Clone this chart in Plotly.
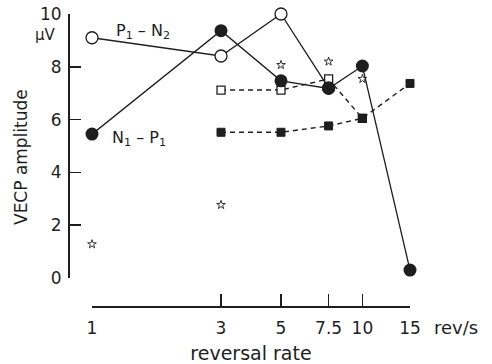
import math
import plotly.graph_objects as go

# ---- data ----
rates = [1, 3, 5, 7.5, 10, 15]
rate_labels = ["1", "3", "5", "7.5", "10", "15"]

n1p1_x = [1, 3, 5, 7.5, 10, 15]
n1p1_y = [5.45, 9.37, 7.47, 7.18, 8.03, 0.3]

p1n2_x = [1, 3, 5, 7.5]
p1n2_y = [9.10, 8.41, 10.0, 7.2]

open_sq_x = [3, 5, 7.5, 10]
open_sq_y = [7.12, 7.12, 7.54, 6.05]

filled_sq_x = [3, 5, 7.5, 10, 15]
filled_sq_y = [5.52, 5.52, 5.76, 6.05, 7.37]

star_x = [1, 3, 5, 7.5, 10, 15.8]
star_y = [1.28, 2.77, 8.07, 8.2, 7.54, 0.18]

y_ticks = [0, 2, 4, 6, 8, 10]

INK = "#1e1e1e"
W, H = 492, 364


def fx(px):
    return px / W


def fy(py):
    return 1 - py / H


fig = go.Figure()

fig.add_trace(go.Scatter(x=open_sq_x, y=open_sq_y, mode="lines+markers",
                         line=dict(color=INK, width=1.4, dash="5px,4px"),
                         marker=dict(symbol="square", size=8, color="white",
                                     line=dict(color=INK, width=1.3)),
                         cliponaxis=False, showlegend=False))
fig.add_trace(go.Scatter(x=filled_sq_x, y=filled_sq_y, mode="lines+markers",
                         line=dict(color=INK, width=1.4, dash="5px,4px"),
                         marker=dict(symbol="square", size=8, color=INK,
                                     line=dict(color=INK, width=1)),
                         cliponaxis=False, showlegend=False))
fig.add_trace(go.Scatter(x=p1n2_x, y=p1n2_y, mode="lines+markers",
                         line=dict(color=INK, width=1.3),
                         marker=dict(symbol="circle", size=12, color="white",
                                     line=dict(color=INK, width=1.3)),
                         cliponaxis=False, showlegend=False))
fig.add_trace(go.Scatter(x=n1p1_x, y=n1p1_y, mode="lines+markers",
                         line=dict(color=INK, width=1.3),
                         marker=dict(symbol="circle", size=13, color=INK),
                         cliponaxis=False, showlegend=False))
fig.add_trace(go.Scatter(x=star_x, y=star_y, mode="markers",
                         marker=dict(symbol="star", size=6.5, color="white",
                                     line=dict(color=INK, width=0.9)),
                         cliponaxis=False, showlegend=False))

FONT = "DejaVu Sans"


def ann(text, x, y, size, angle=0):
    return dict(text=text, x=fx(x), y=fy(y), xref="paper", yref="paper",
                xanchor="center", yanchor="middle", showarrow=False,
                textangle=angle,
                font=dict(size=size, family=FONT, color=INK))


fig.update_layout(
    width=W, height=H,
    template=None,
    margin=dict(l=0, r=0, t=0, b=0),
    paper_bgcolor="white", plot_bgcolor="white",
    font=dict(family=FONT, color=INK),
    hovermode=False,
    xaxis=dict(type="log", range=[0, math.log10(15)],
               domain=[fx(92), fx(410)], anchor="free", position=fy(306),
               showline=True, linecolor=INK, linewidth=1.6,
               ticks="inside", ticklen=12, tickwidth=1.6, tickcolor=INK,
               tickvals=rates, ticktext=rate_labels,
               tickfont=dict(size=17, family=FONT, color=INK),
               ticklabelstandoff=6, ticklabeloverflow="allow",
               showgrid=False, zeroline=False, automargin=False,
               title=dict(text="reversal rate", font=dict(size=19, family=FONT, color=INK),
                          standoff=9)),
    yaxis=dict(range=[0, 10],
               domain=[fy(278), fy(14)], anchor="free", position=fx(68),
               showline=True, linecolor=INK, linewidth=1.6,
               ticks="inside", ticklen=11, tickwidth=1.6, tickcolor=INK,
               tickvals=y_ticks,
               tickfont=dict(size=17, family=FONT, color=INK),
               ticklabelstandoff=3, ticklabeloverflow="allow",
               showgrid=False, zeroline=False, automargin=False),
    annotations=[
        ann("VECP amplitude", 21, 157, 17, -90),
        ann("μV", 45, 35, 15),
        ann("P<sub>1</sub> – N<sub>2</sub>", 143, 31, 16),
        ann("N<sub>1</sub> – P<sub>1</sub>", 139, 138, 16),
        ann("rev/s", 456, 327, 18),
    ],
)

fig.write_html("out.html",
               config={"displayModeBar": False, "staticPlot": True},
               post_script="document.body.style.margin='0';document.body.style.overflow='hidden';")
